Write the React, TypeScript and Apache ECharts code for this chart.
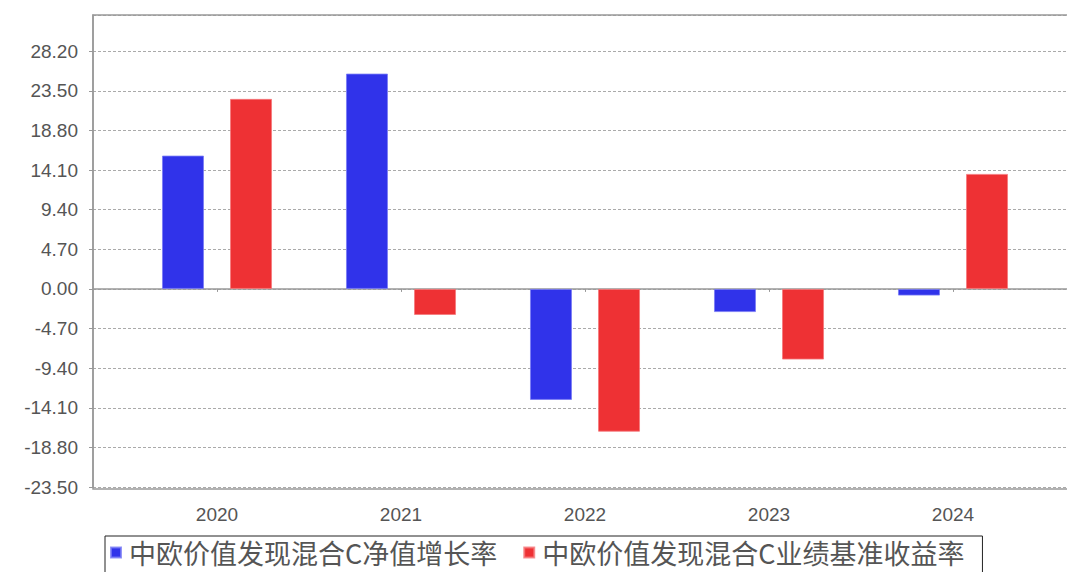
import React, { useEffect, useRef } from "react";
import * as echarts from "echarts";

const years = ["2020", "2021", "2022", "2023", "2024"];
const navGrowth = [15.82, 25.55, -13.17, -2.75, -0.79];
const benchmark = [22.55, -3.09, -16.94, -8.38, 13.65];
const seriesNames = ["中欧价值发现混合C净值增长率", "中欧价值发现混合C业绩基准收益率"];
const yMin = -23.5;
const yMax = 32.5;
const yInterval = 4.7;

export default function App() {
  const ref = useRef<HTMLDivElement>(null);
  useEffect(() => {
    if (!ref.current) return;
    const chart = echarts.init(ref.current, null, { renderer: "svg" });
    const axisFont = { fontFamily: "Liberation Sans", fontSize: 19, color: "#555" };
    chart.setOption({
      animation: false,
      backgroundColor: "#fff",
      grid: [
        { left: 93, top: 15, right: -60, bottom: 85 },
        { left: 125, top: 15, width: 920, bottom: 85 },
      ],
      xAxis: [
        {
          gridIndex: 0,
          type: "value",
          min: 0,
          max: 1,
          offset: 7,
          axisLine: { show: true, lineStyle: { color: "#999", width: 1.5 } },
          axisTick: { show: false },
          axisLabel: { show: false },
          splitLine: { show: false },
        },
        {
          gridIndex: 1,
          type: "category",
          data: years,
          offset: 7,
          axisLine: { show: false },
          axisTick: { show: true, alignWithLabel: true, length: 3, lineStyle: { color: "#999" } },
          axisLabel: { ...axisFont, margin: 11 },
          splitLine: { show: false },
        },
      ],
      yAxis: [
        {
          gridIndex: 0,
          type: "value",
          min: yMin,
          max: yMax,
          interval: yInterval,
          offset: 5,
          axisLine: { show: true, lineStyle: { color: "#999", width: 1.5 } },
          axisTick: { show: true, length: 4, lineStyle: { color: "#999" } },
          axisLabel: {
            ...axisFont,
            margin: 10,
            showMaxLabel: false,
            formatter: (v: number) => v.toFixed(2),
          },
          splitLine: { show: true, lineStyle: { color: "#aaa", type: [3, 2], width: 1 } },
        },
        {
          gridIndex: 1,
          type: "value",
          min: yMin,
          max: yMax,
          interval: yInterval,
          show: false,
          splitLine: { show: false },
        },
      ],
      legend: {
        left: 105,
        top: 536,
        orient: "horizontal",
        data: seriesNames,
        icon: "rect",
        itemWidth: 10,
        itemHeight: 10,
        itemGap: 26,
        padding: [3, 18, 8, 5],
        borderColor: "#222",
        borderWidth: 1,
        textStyle: { fontFamily: "Noto Sans CJK SC", fontSize: 27, lineHeight: 22, color: "#555", padding: [0, 0, 0, 3] },
      },
      graphic: [
        {
          type: "polyline",
          shape: { points: [[1200, 15], [93, 15], [93, 489], [1200, 489]] },
          style: { fill: "none", stroke: "#999", lineWidth: 1.5 },
          silent: true,
          z: 10,
        },
      ],
      series: [
        {
          name: seriesNames[0],
          type: "bar",
          xAxisIndex: 1,
          yAxisIndex: 1,
          data: navGrowth,
          barWidth: 42,
          barGap: "62%",
          itemStyle: { color: "#3033EA", borderColor: "rgba(120,122,245,0.8)", borderWidth: 1 },
        },
        {
          name: seriesNames[1],
          type: "bar",
          xAxisIndex: 1,
          yAxisIndex: 1,
          data: benchmark,
          barWidth: 42,
          barGap: "62%",
          itemStyle: { color: "#EE3134", borderColor: "rgba(245,120,122,0.8)", borderWidth: 1 },
        },
      ],
    });
    return () => chart.dispose();
  }, []);
  return (
    <div style={{ position: "fixed", left: 0, top: 0, width: 1067, height: 572, overflow: "hidden" }}>
      <div ref={ref} style={{ width: 1090, height: 572 }} />
    </div>
  );
}
